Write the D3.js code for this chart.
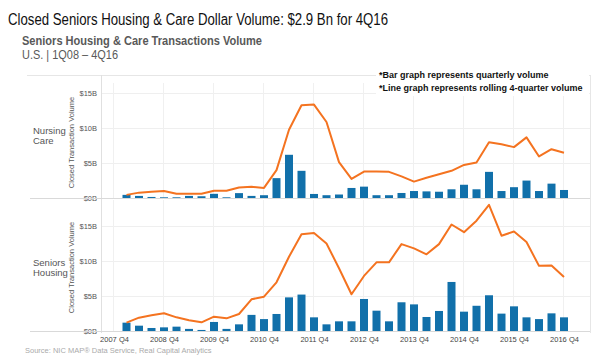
<!DOCTYPE html>
<html><head><meta charset="utf-8">
<script src="https://cdn.jsdelivr.net/npm/d3@7"></script>
<style>
html,body{margin:0;padding:0;background:#fff;}
svg{display:block;font-family:"Liberation Sans",Arial,sans-serif;}
</style></head>
<body><svg id="c" width="600" height="364"></svg>
<script>
const quarters = ["2007 Q4",
 "2008 Q1","2008 Q2","2008 Q3","2008 Q4",
 "2009 Q1","2009 Q2","2009 Q3","2009 Q4",
 "2010 Q1","2010 Q2","2010 Q3","2010 Q4",
 "2011 Q1","2011 Q2","2011 Q3","2011 Q4",
 "2012 Q1","2012 Q2","2012 Q3","2012 Q4",
 "2013 Q1","2013 Q2","2013 Q3","2013 Q4",
 "2014 Q1","2014 Q2","2014 Q3","2014 Q4",
 "2015 Q1","2015 Q2","2015 Q3","2015 Q4",
 "2016 Q1","2016 Q2","2016 Q3","2016 Q4"];
const dataQuarters = quarters.slice(1);
const xTickLabels = ["2007 Q4","2008 Q4","2009 Q4","2010 Q4","2011 Q4","2012 Q4","2013 Q4","2014 Q4","2015 Q4","2016 Q4"];
const yTickValues = [0, 5, 10, 15];

// Nursing Care ($B)
const nursingQuarterly = [0.45,0.3,0.15,0.1, 0.1,0.3,0.25,0.6, 0.1,0.7,0.3,0.4,
  2.85,6.2,3.9,0.58, 0.4,0.5,1.44,1.63, 0.4,0.4,0.72,1.0,
  0.95,0.9,1.25,1.9, 1.25,3.75,1.0,1.55, 2.5,1.0,2.06,1.15];
const nursingRolling = [0.45,0.77,0.9,1.0, 0.6,0.6,0.6,1.05, 1.05,1.5,1.6,1.45,
  4.0,9.8,13.3,13.4, 10.9,5.15,2.74,3.8, 3.8,3.75,3.1,2.35,
  2.9,3.4,3.9,4.75, 5.1,8.0,7.7,7.3, 8.7,5.96,7.0,6.5];
// Seniors Housing ($B)
const housingQuarterly = [1.19,0.76,0.43,0.52, 0.62,0.3,0.15,1.29, 0.3,0.95,2.3,1.7,
  2.43,4.8,5.2,1.95, 0.95,1.38,1.38,4.57, 2.9,1.38,4.1,3.8,
  2.0,2.86,7.0,2.76, 3.6,5.1,2.48,3.52, 1.95,1.7,2.52,1.95];
const housingRolling = [1.19,1.9,2.24,2.53, 1.95,1.53,1.24,2.05, 1.81,2.43,4.52,4.9,
  6.95,10.6,13.8,14.0, 12.5,8.95,5.24,7.86, 9.8,9.8,12.4,11.8,
  10.95,12.4,15.2,14.1, 15.75,18.0,13.6,14.2, 12.7,9.3,9.35,7.7];

const panels = [
  {label:["Nursing","Care"], labelY:134, bars:nursingQuarterly, line:nursingRolling, y0:198, top:83, max:16.5},
  {label:["Seniors","Housing"], labelY:266, bars:housingQuarterly, line:housingRolling, y0:331, top:200, max:18.7}
];

const BLUE = "#1170aa", ORANGE = "#f47320";
const svg = d3.select("#c");

const x = d3.scalePoint().domain(quarters).range([114, 564]);

// Titles
svg.append("text").attr("x", 8).attr("y", 25).attr("font-size", 16).attr("fill", "#111")
  .attr("textLength", 380).attr("lengthAdjust", "spacingAndGlyphs")
  .text("Closed Seniors Housing & Care Dollar Volume: $2.9 Bn for 4Q16");
svg.append("text").attr("x", 22).attr("y", 45).attr("font-size", 12.5).attr("font-weight", "bold").attr("fill", "#595959")
  .attr("textLength", 240).attr("lengthAdjust", "spacingAndGlyphs")
  .text("Seniors Housing & Care Transactions Volume");
svg.append("text").attr("x", 22).attr("y", 59).attr("font-size", 12.5).attr("fill", "#595959")
  .attr("textLength", 96).attr("lengthAdjust", "spacingAndGlyphs")
  .text("U.S. | 1Q08 \u2013 4Q16");

// frame lines
svg.append("line").attr("x1", 27).attr("x2", 590).attr("y1", 75.5).attr("y2", 75.5).attr("stroke", "#e6e6e6");
svg.append("line").attr("x1", 101.5).attr("x2", 101.5).attr("y1", 75).attr("y2", 333).attr("stroke", "#e0e0e0");
svg.append("line").attr("x1", 590.5).attr("x2", 590.5).attr("y1", 75).attr("y2", 333).attr("stroke", "#e6e6e6");

panels.forEach((p, k) => {
  const y = d3.scaleLinear().domain([0, p.max]).range([p.y0, p.top]);
  const g = svg.append("g");
  // horizontal gridlines
  g.selectAll("line.hg").data(yTickValues.filter(v => v > 0)).join("line")
    .attr("x1", 102).attr("x2", 590).attr("y1", d => Math.round(y(d)) + 0.5).attr("y2", d => Math.round(y(d)) + 0.5)
    .attr("stroke", "#efefef");
  // vertical gridlines
  g.selectAll("line.vg").data(xTickLabels).join("line")
    .attr("x1", d => x(d) - 0.5).attr("x2", d => x(d) - 0.5).attr("y1", p.top).attr("y2", p.y0)
    .attr("stroke", "#f0f0f0");
  // y axis
  const ya = d3.axisLeft(y).tickValues(yTickValues).tickFormat(d => "$" + d + "B").tickSize(0).tickPadding(4);
  const yg = g.append("g").attr("transform", "translate(101,0)").call(ya);
  yg.select(".domain").remove();
  yg.selectAll("text").attr("font-size", 7.5).attr("fill", "#555").attr("font-family", "Liberation Sans, Arial, sans-serif");
  // axis title
  g.append("text").attr("transform", `translate(74,${(p.y0 + p.top) / 2 + 2}) rotate(-90)`)
    .attr("text-anchor", "middle").attr("font-size", 7.5).attr("fill", "#555").text("Closed Transaction Volume");
  // row label
  g.append("text").attr("y", p.labelY).attr("font-size", 9.5).attr("fill", "#555")
    .selectAll("tspan").data(p.label).join("tspan").attr("x", 33).attr("dy", (d, i) => i ? 10 : 0).text(d => d);
  // baseline
  g.append("line").attr("x1", 30).attr("x2", 590).attr("y1", p.y0 + 0.5).attr("y2", p.y0 + 0.5).attr("stroke", "#d9d9d9");
  // bars
  g.selectAll("rect").data(p.bars).join("rect")
    .attr("x", (d, i) => x(dataQuarters[i]) - 4).attr("width", 8)
    .attr("y", d => y(d)).attr("height", d => p.y0 - y(d)).attr("fill", BLUE);
  // line
  g.append("path").datum(p.line)
    .attr("d", d3.line().x((d, i) => x(dataQuarters[i])).y(d => y(d)))
    .attr("fill", "none").attr("stroke", ORANGE).attr("stroke-width", 2).attr("stroke-linejoin", "round");
});

// x axis
const xa = d3.axisBottom(x).tickValues(xTickLabels).tickSize(0).tickPadding(6);
const xg = svg.append("g").attr("transform", "translate(0,331)").call(xa);
xg.select(".domain").remove();
xg.selectAll("text").attr("font-size", 7.5).attr("fill", "#444").attr("font-family", "Liberation Sans, Arial, sans-serif");

// annotations (white box behind)
svg.append("rect").attr("x", 376).attr("y", 68).attr("width", 213).attr("height", 28).attr("fill", "#fff");
svg.append("text").attr("x", 379).attr("y", 78).attr("font-size", 9).attr("font-weight", "bold").attr("fill", "#111")
  .text("*Bar graph represents quarterly volume");
svg.append("text").attr("x", 379).attr("y", 91).attr("font-size", 9).attr("font-weight", "bold").attr("fill", "#111")
  .text("*Line graph represents rolling 4-quarter volume");

// source
svg.append("text").attr("x", 25).attr("y", 353).attr("font-size", 7.5).attr("fill", "#aaa")
  .text("Source: NIC MAP\u00AE Data Service, Real Capital Analytics");
</script></body></html>
